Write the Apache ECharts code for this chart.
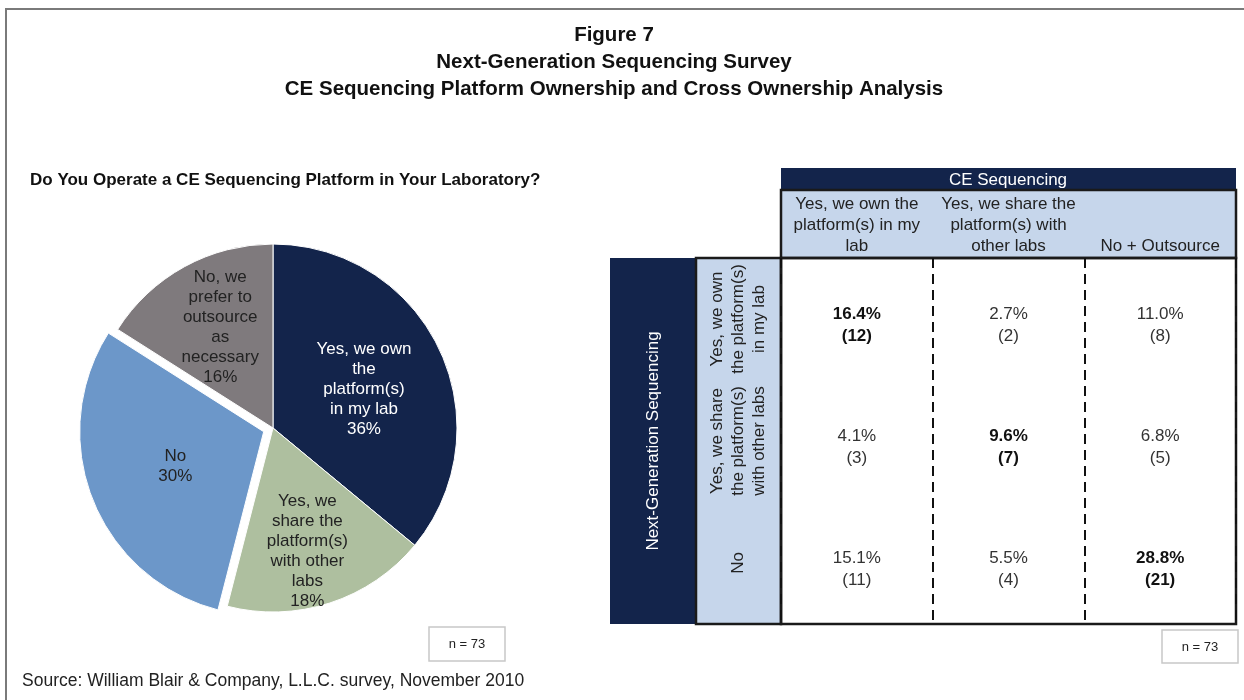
<!DOCTYPE html>
<html>
<head>
<meta charset="utf-8">
<script src="https://cdn.jsdelivr.net/npm/echarts@6/dist/echarts.min.js"></script>
<style>
  html, body { margin: 0; padding: 0; background: #fff; }
  #chart { width: 1244px; height: 700px; }
</style>
</head>
<body>
<div id="chart"></div>
<script>
// pie: do you operate a CE sequencing platform
const pieNames  = ['Yes, we own\nthe\nplatform(s)\nin my lab', 'Yes, we\nshare the\nplatform(s)\nwith other\nlabs', 'No', 'No, we\nprefer to\noutsource\nas\nnecessary']
const pieValues = [36, 18, 30, 16]
const pieColors = ['#13244b', '#aebf9f', '#6c97c9', '#7f7a7d']

// cross ownership table
const colLabels = ['Yes, we own the\nplatform(s) in my\nlab', 'Yes, we share the\nplatform(s) with\nother labs', 'No + Outsource']
const rowLabels = ['Yes, we own\nthe platform(s)\nin my lab', 'Yes, we share\nthe platform(s)\nwith other labs', 'No']
const cellPct   = [[16.4, 2.7, 11.0], [4.1, 9.6, 6.8], [15.1, 5.5, 28.8]]
const cellCount = [[12, 2, 8], [3, 7, 5], [11, 4, 21]]

const FONT   = 'Liberation Sans, Arial, sans-serif'
const NAVY   = '#13244b'
const LBLUE  = '#c6d6eb'
const labelOffsets = [[5, 2], [5, 33], [0, 0], [-7, -17]]

const pieData = pieNames.map((n, i) => ({
  name: n,
  value: pieValues[i],
  selected: i === 2,
  itemStyle: { color: pieColors[i] },
  label: { color: i === 0 ? '#fff' : '#222', offset: labelOffsets[i] },
}))

const cellData = []
cellPct.forEach((row, r) => row.forEach((v, c) => cellData.push([c, r, v, cellCount[r][c]])))

const chart = echarts.init(document.getElementById('chart'), null, { renderer: 'canvas' })
chart.setOption({
  backgroundColor: '#fff',
  animation: false,
  grid: {
    left: 781, top: 258, width: 455, height: 366,
    show: true, borderColor: '#1a1a1a', borderWidth: 2.5, backgroundColor: 'transparent',
  },
  xAxis: {
    type: 'category', data: colLabels, position: 'top',
    axisLine: { show: false }, axisTick: { show: false },
    axisLabel: { interval: 0, margin: 1, fontFamily: FONT, fontSize: 17, lineHeight: 21, color: '#222' },
    splitLine: { show: true, interval: 0, lineStyle: { type: [10, 6], color: '#111', width: 2 } },
  },
  yAxis: {
    type: 'category', data: rowLabels, inverse: true,
    axisLine: { show: false }, axisTick: { show: false },
    axisLabel: {
      interval: 0, rotate: 90, margin: 43, verticalAlign: 'middle', align: 'center',
      fontFamily: FONT, fontSize: 17, lineHeight: 21, color: '#222',
    },
    splitLine: { show: false },
  },
  series: [
    {
      type: 'pie',
      center: [273, 428],
      radius: 184,
      startAngle: 90,
      selectedMode: 'single',
      selectedOffset: 10,
      itemStyle: { borderColor: '#fff', borderWidth: 1 },
      label: {
        position: 'inside', formatter: '{b}\n{c}%',
        fontFamily: FONT, fontSize: 17, lineHeight: 20, align: 'center',
      },
      labelLine: { show: false },
      emphasis: { disabled: true },
      data: pieData,
    },
    {
      type: 'custom',
      coordinateSystem: 'cartesian2d',
      encode: { x: 0, y: 1 },
      z: 5,
      data: cellData,
      renderItem: (params, api) => {
        const pt = api.coord([api.value(0), api.value(1)])
        const diag = api.value(0) === api.value(1)
        return {
          type: 'text',
          style: {
            text: api.value(2).toFixed(1) + '%\n(' + api.value(3) + ')',
            x: pt[0], y: pt[1] + 6,
            align: 'center', verticalAlign: 'middle',
            fontFamily: FONT, fontSize: 17, lineHeight: 22,
            fontWeight: diag ? 'bold' : 'normal',
            fill: diag ? '#111' : '#333',
          },
        }
      },
    },
  ],
  graphic: [
    // outer frame
    { type: 'polyline', z: 10, shape: { points: [[6, 700], [6, 9], [1244, 9]] }, style: { stroke: '#7a7a7a', lineWidth: 2, fill: null } },
    // titles
    { type: 'text', z: 10, style: {
      text: 'Figure 7\nNext-Generation Sequencing Survey\nCE Sequencing Platform Ownership and Cross Ownership Analysis',
      x: 614, y: 22, align: 'center', verticalAlign: 'top',
      fontFamily: FONT, fontSize: 20.5, fontWeight: 'bold', lineHeight: 27, fill: '#111' } },
    { type: 'text', z: 10, style: {
      text: 'Do You Operate a CE Sequencing Platform in Your Laboratory?',
      x: 30, y: 180, verticalAlign: 'middle',
      fontFamily: FONT, fontSize: 17, fontWeight: 'bold', fill: '#111' } },
    // table header blocks
    { type: 'rect', z: -1, shape: { x: 781, y: 168, width: 455, height: 22 }, style: { fill: NAVY } },
    { type: 'rect', z: -1, shape: { x: 781, y: 190, width: 455, height: 68 }, style: { fill: LBLUE, stroke: '#1a1a1a', lineWidth: 2.5 } },
    { type: 'rect', z: -1, shape: { x: 610, y: 258, width: 86, height: 366 }, style: { fill: NAVY } },
    { type: 'rect', z: -1, shape: { x: 696, y: 258, width: 85, height: 366 }, style: { fill: LBLUE, stroke: '#1a1a1a', lineWidth: 2.5 } },
    { type: 'text', z: 10, style: { text: 'CE Sequencing', x: 1008, y: 180, align: 'center', verticalAlign: 'middle', fontFamily: FONT, fontSize: 17, fill: '#fff' } },
    { type: 'text', z: 10, rotation: Math.PI / 2, x: 653, y: 441, style: { text: 'Next-Generation Sequencing', x: 0, y: 0, align: 'center', verticalAlign: 'middle', fontFamily: FONT, fontSize: 17, fill: '#fff' } },
    // sample size boxes
    { type: 'rect', z: 10, shape: { x: 429, y: 627, width: 76, height: 34 }, style: { fill: '#fff', stroke: '#c8c8c8', lineWidth: 1.5 } },
    { type: 'text', z: 11, style: { text: 'n = 73', x: 467, y: 644, align: 'center', verticalAlign: 'middle', fontFamily: FONT, fontSize: 13, fill: '#222' } },
    { type: 'rect', z: 10, shape: { x: 1162, y: 630, width: 76, height: 33 }, style: { fill: '#fff', stroke: '#c8c8c8', lineWidth: 1.5 } },
    { type: 'text', z: 11, style: { text: 'n = 73', x: 1200, y: 647, align: 'center', verticalAlign: 'middle', fontFamily: FONT, fontSize: 13, fill: '#222' } },
    // source
    { type: 'text', z: 10, style: { text: 'Source: William Blair & Company, L.L.C. survey, November 2010', x: 22, y: 681, verticalAlign: 'middle', fontFamily: FONT, fontSize: 17.5, fill: '#222' } },
  ],
})
</script>
</body>
</html>
